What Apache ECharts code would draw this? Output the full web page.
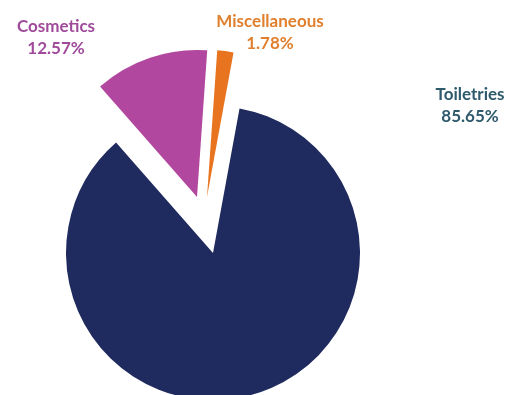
<!DOCTYPE html>
<html><head><meta charset="utf-8">
<script src="https://cdn.jsdelivr.net/npm/echarts@6/dist/echarts.min.js"></script>
<style>html,body{margin:0;padding:0;background:#fff}#c{width:508px;height:395px}</style>
</head><body><div id="c"></div>
<script>
// Data
const categories = ['Toiletries', 'Cosmetics', 'Miscellaneous'];
const shares = [85.65, 12.57, 1.78];

// Styles / layout
const sliceColors = ['#1f2a5e', '#b2479f', '#e8741f'];
const labelColors = ['#2f5a6c', '#a04a9b', '#e0802e'];
const centers = [[213, 253], [197, 197], [207, 197]]; // exploded slices have shifted centers
const labelPos = [[470, 106], [56, 38], [270, 33]];

const chart = echarts.init(document.getElementById('c'), null, {renderer: 'canvas'});
chart.setOption({
  animation: false,
  backgroundColor: '#ffffff',
  series: categories.map((name, k) => ({
    type: 'pie',
    center: centers[k],
    radius: 147,
    startAngle: 79.6,
    clockwise: true,
    silent: true,
    label: {show: false},
    labelLine: {show: false},
    data: categories.map((n, i) => ({
      name: n,
      value: shares[i],
      itemStyle: {color: i === k ? sliceColors[i] : 'rgba(0,0,0,0)', borderWidth: 0}
    }))
  })),
  graphic: categories.map((n, i) => ({
    type: 'text',
    x: labelPos[i][0],
    y: labelPos[i][1],
    style: {
      text: n + '\n' + shares[i].toFixed(2) + '%',
      fill: labelColors[i],
      font: 'bold 17px Lato',
      align: 'center',
      verticalAlign: 'middle',
      lineHeight: 22
    }
  }))
});
</script></body></html>
